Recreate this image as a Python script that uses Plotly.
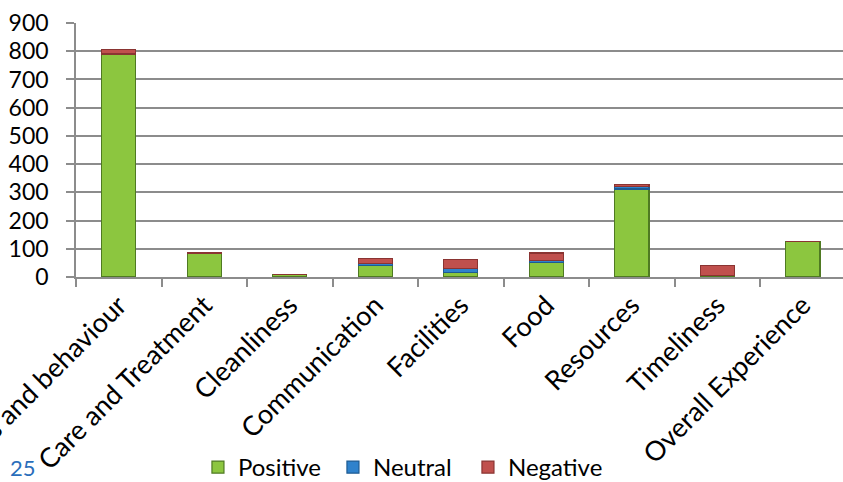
import plotly.graph_objects as go

# Feedback themes and comment counts by sentiment
categories = [
    "Staff attitudes and behaviour",
    "Care and Treatment",
    "Cleanliness",
    "Communication",
    "Facilities",
    "Food",
    "Resources",
    "Timeliness",
    "Overall Experience",
]
positive = [790, 83, 10, 42, 16, 51, 312, 4, 127]
neutral = [0, 0, 0, 7, 15, 7, 8, 0, 0]
negative = [15, 2, 0, 16, 32, 27, 8, 36, 0]

y_ticks = [0, 100, 200, 300, 400, 500, 600, 700, 800, 900]
page_number = "25"

FONT = "Lato"
GRID = "#8c8c8c"

series = [
    ("Positive", positive, "#8cc63f", "#4f7a22"),
    ("Neutral", neutral, "#2f82cc", "#1d5b93"),
    ("Negative", negative, "#c0504d", "#8a3432"),
]

fig = go.Figure()
for name, vals, fill, edge in series:
    fig.add_trace(go.Bar(
        name=name,
        x=categories,
        y=vals,
        marker=dict(color=fill, line=dict(color=edge, width=1.2)),
    ))

fig.update_layout(
    width=843,
    height=482,
    barmode="stack",
    bargap=0.6,
    paper_bgcolor="white",
    plot_bgcolor="white",
    margin=dict(l=76, r=0, t=23, b=205, autoexpand=False),
    font=dict(family=FONT, size=22, color="black"),
    showlegend=True,
    legend=dict(
        orientation="h",
        traceorder="normal",
        x=0.159,
        xanchor="left",
        y=-0.75,
        yanchor="middle",
        font=dict(family=FONT, size=24, color="black"),
        entrywidth=90,
        bgcolor="rgba(0,0,0,0)",
    ),
    xaxis=dict(
        type="category",
        range=[-0.5, 8.47],
        tickangle=-45,
        tickson="boundaries",
        ticks="outside",
        ticklen=8,
        tickcolor=GRID,
        tickwidth=1.5,
        showline=True,
        linecolor=GRID,
        linewidth=1.5,
        showgrid=False,
        automargin=False,
        tickfont=dict(family=FONT, size=27, color="black"),
    ),
    yaxis=dict(
        range=[0, 900],
        tickvals=y_ticks,
        ticks="outside",
        ticklen=8,
        tickcolor=GRID,
        tickwidth=1.5,
        showline=True,
        linecolor=GRID,
        linewidth=1.5,
        showgrid=True,
        gridcolor=GRID,
        gridwidth=1.5,
        zeroline=False,
        ticklabelstandoff=13,
        automargin=False,
        tickfont=dict(family=FONT, size=23, color="black"),
    ),
    annotations=[
        dict(
            text=page_number,
            xref="paper", yref="paper",
            x=-0.089, y=-0.69,
            xanchor="left", yanchor="top",
            showarrow=False,
            font=dict(family=FONT, size=22, color="#2a6ebb"),
        )
    ],
)

fig.write_html("out.html")
